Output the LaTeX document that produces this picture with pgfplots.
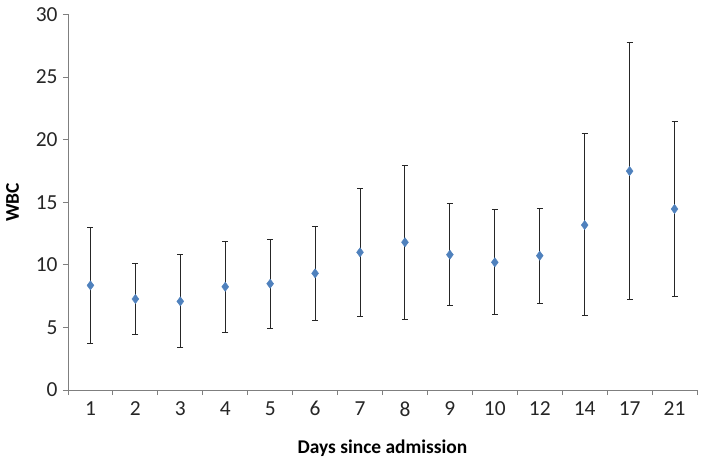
\documentclass[border=0pt]{standalone}
\usepackage{pgfplots}
\pgfplotsset{compat=1.18}
\usepackage{pgfplotstable}
\usepackage{fontspec}
\setmainfont{Carlito}
\definecolor{excelblue}{HTML}{4F81BD}
\definecolor{axisgray}{HTML}{7F7F7F}
\definecolor{labelgray}{HTML}{262626}

% day index, mean WBC, error above, error below
\pgfplotstableread{
x  y     ep     em
0  8.36  4.64   4.66
1  7.27  2.82   2.80
2  7.08  3.72   3.70
3  8.25  3.65   3.65
4  8.49  3.54   3.54
5  9.32  3.75   3.76
6  11.00 5.10   5.14
7  11.80 6.17   6.13
8  10.81 4.07   4.07
9  10.20 4.20   4.18
10 10.73 3.81   3.81
11 13.18 7.29   7.22
12 17.49 10.28  10.28
13 14.46 7.03   6.98
}\wbc

\begin{document}
\begin{tikzpicture}
\begin{axis}[
    scale only axis,
    width=629bp, height=375.5bp,
    xmin=-0.5, xmax=13.5,
    ymin=0, ymax=30,
    axis x line*=bottom, axis y line*=left,
    axis line style={axisgray, line width=0.9pt},
    xtick={0,...,13},
    xticklabels={1,2,3,4,5,6,7,8,9,10,12,14,17,21},
    major x tick style={draw=none},
    minor xtick={-0.5,0.5,...,13.5},
    minor x tick style={axisgray, line width=0.9pt},
    ytick={0,5,...,30},
    y tick style={axisgray, line width=0.9pt},
    tick align=outside,
    major tick length=5bp, minor tick length=5bp,
    /pgf/number format/assume math mode=true,
    ticklabel style={font=\fontsize{21.5}{24}\selectfont, text=labelgray},
    xticklabel style={yshift=-3bp},
    yticklabel style={xshift=-2bp},
    xlabel={\textbf{Days since admission}},
    ylabel={\textbf{WBC}},
    label style={font=\fontsize{19.5}{22}\selectfont},
    xlabel style={yshift=-17bp},
    ylabel style={yshift=10bp},
    clip=false,
]
\addplot[only marks, mark=diamond*, mark size=4.6bp,
    mark options={fill=excelblue, draw=excelblue},
    error bars/.cd, y dir=both, y explicit,
    error bar style={black!85, line width=1pt},
    error mark options={rotate=90, mark size=3bp, black!85, line width=1pt}]
    table[x=x, y=y, y error plus=ep, y error minus=em] {\wbc};
\end{axis}
\pgfresetboundingbox
\path ([shift={(-68bp,-73bp)}]current axis.south west) rectangle ([shift={(12bp,14.5bp)}]current axis.north east);
\end{tikzpicture}
\end{document}
